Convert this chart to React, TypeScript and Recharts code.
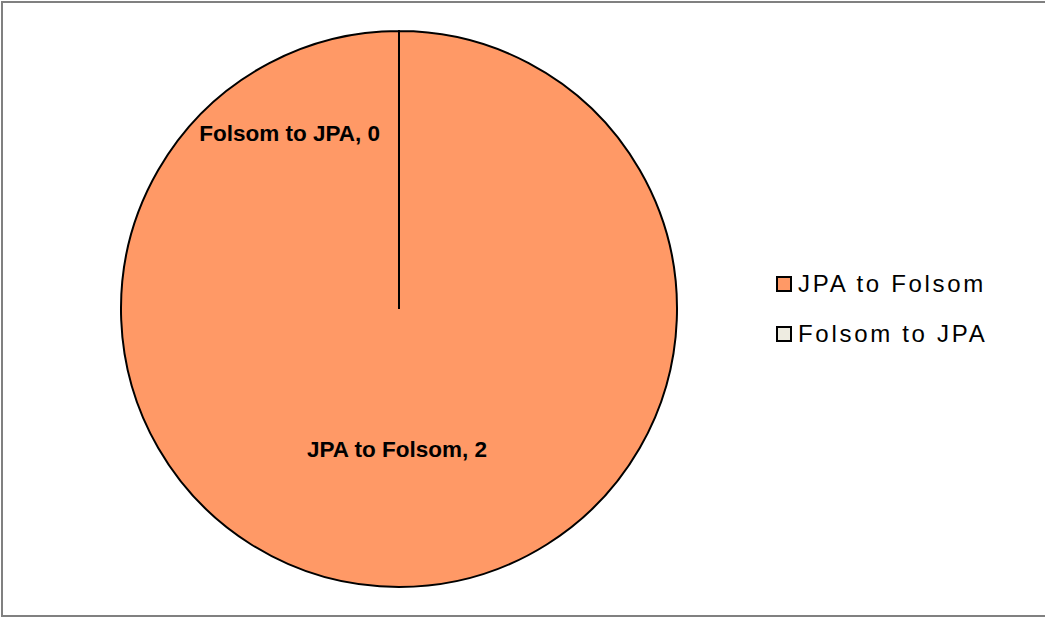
import React from "react";
import { PieChart, Pie, Cell, Legend } from "recharts";

const categories = ["JPA to Folsom", "Folsom to JPA"];
const values = [2, 0];
const colors = ["#FF9966", "#EEECE1"];

const data = categories.map((name, i) => ({ name, value: values[i] }));

const RAD = Math.PI / 180;

const renderLabel = (props: any) => {
  const { cx, cy, midAngle, outerRadius, name, value } = props;
  const isZero = value === 0;
  const r = isZero ? outerRadius * 0.63 : outerRadius * 0.505;
  let x = cx + r * Math.cos(-midAngle * RAD);
  const y = cy + r * Math.sin(-midAngle * RAD);
  if (isZero) x -= 19;
  return (
    <text
      x={isZero ? x : x - 2}
      y={y}
      textAnchor={isZero ? "end" : "middle"}
      dominantBaseline="central"
      fill="#000"
      fontFamily="'Liberation Sans', Arial, sans-serif"
      fontWeight={700}
      fontSize={22.5}
    >
      {`${name}, ${value}`}
    </text>
  );
};

const renderLegend = () => {
  return (
    <div style={{ fontFamily: "'Liberation Sans', Arial, sans-serif" }}>
      {categories.map((name, i) => (
        <div
          key={name}
          style={{ display: "flex", alignItems: "center", height: 50 }}
        >
          <span
            style={{
              display: "inline-block",
              width: 12,
              height: 12,
              border: "2px solid #000",
              background: colors[i],
              marginRight: 6,
            }}
          />
          <span style={{ fontSize: 24, letterSpacing: 2.7, color: "#000" }}>
            {name}
          </span>
        </div>
      ))}
    </div>
  );
};

export default function App() {
  return (
    <div
      style={{
        position: "absolute",
        left: 0,
        top: 0,
        width: 1045,
        height: 617,
        background: "#fff",
        overflow: "hidden",
      }}
    >
      <div
        style={{
          position: "absolute",
          left: 1,
          top: 1,
          width: 1060,
          height: 616,
          boxSizing: "border-box",
          border: "2px solid #808080",
        }}
      />
      <PieChart width={1045} height={617} style={{ position: "absolute", left: 0, top: 0 }}>
        <Pie
          data={data}
          dataKey="value"
          nameKey="name"
          cx={394}
          cy={304}
          outerRadius={278}
          startAngle={90}
          endAngle={-270}
          stroke="#000"
          strokeWidth={2}
          label={renderLabel}
          labelLine={false}
          isAnimationActive={false}
        >
          {data.map((d, i) => (
            <Cell key={d.name} fill={colors[i]} />
          ))}
        </Pie>
        <Legend
          layout="vertical"
          content={renderLegend}
          wrapperStyle={{ left: 776, top: 259, width: 260 }}
        />
      </PieChart>
    </div>
  );
}
